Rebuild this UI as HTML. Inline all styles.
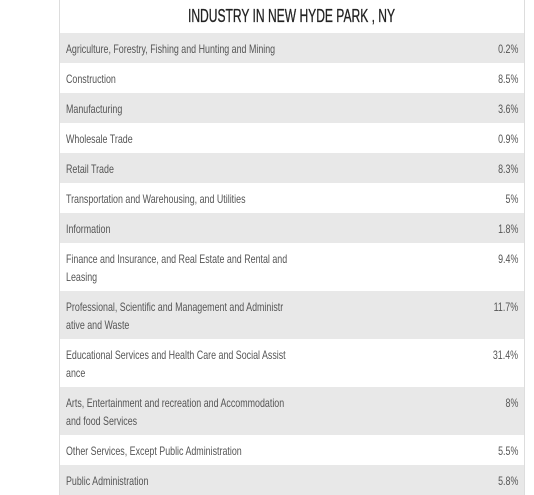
<!DOCTYPE html>
<html><head><meta charset="utf-8"><style>
html,body{margin:0;padding:0;background:#fff;width:534px;height:495px;overflow:hidden}
body{font-family:"Liberation Sans",sans-serif;}
#wrap{position:absolute;left:59px;top:0;width:466px;height:495px;border-left:1px solid #ddd;border-right:1px solid #ddd;box-sizing:border-box}
h1{margin:0;height:33px;line-height:32px;text-align:center;font-size:18px;font-weight:normal;color:#222;white-space:nowrap}
h1 span{display:inline-block;transform:scaleX(0.67);transform-origin:center;-webkit-text-stroke:0.3px #222}
.row{position:relative;box-sizing:border-box;color:#555;font-size:12px}
.lab{position:absolute;left:6px;top:7px;line-height:18px;white-space:pre;transform:scaleX(0.74);transform-origin:left top}
.val{position:absolute;right:6px;top:9px;line-height:14px;transform:scaleX(0.74);transform-origin:right top}
</style></head><body>
<div id="wrap">
<h1><span>INDUSTRY IN NEW HYDE PARK , NY</span></h1>
<div id="rows"></div>
</div>
<script>
const industries=["Agriculture, Forestry, Fishing and Hunting and Mining","Construction","Manufacturing","Wholesale Trade","Retail Trade","Transportation and Warehousing, and Utilities","Information","Finance and Insurance, and Real Estate and Rental and\nLeasing","Professional, Scientific and Management and Administr\native and Waste","Educational Services and Health Care and Social Assist\nance","Arts, Entertainment and recreation and Accommodation\nand food Services","Other Services, Except Public Administration","Public Administration"];
const shares=["0.2%","8.5%","3.6%","0.9%","8.3%","5%","1.8%","9.4%","11.7%","31.4%","8%","5.5%","5.8%"];
const rows=document.getElementById('rows');
industries.forEach((n,i)=>{
 const two=n.indexOf('\n')>=0;
 const r=document.createElement('div');r.className='row';
 
 
 r.style.height=(two?48:30)+'px';
 r.style.background=i%2==0?'#e8e8e8':'#fff';
 const l=document.createElement('div');l.className='lab';l.textContent=n;
 
 
 const v=document.createElement('div');v.className='val';v.textContent=shares[i];
 
 
 r.appendChild(l);r.appendChild(v);rows.appendChild(r);
});
</script>
</body></html>
